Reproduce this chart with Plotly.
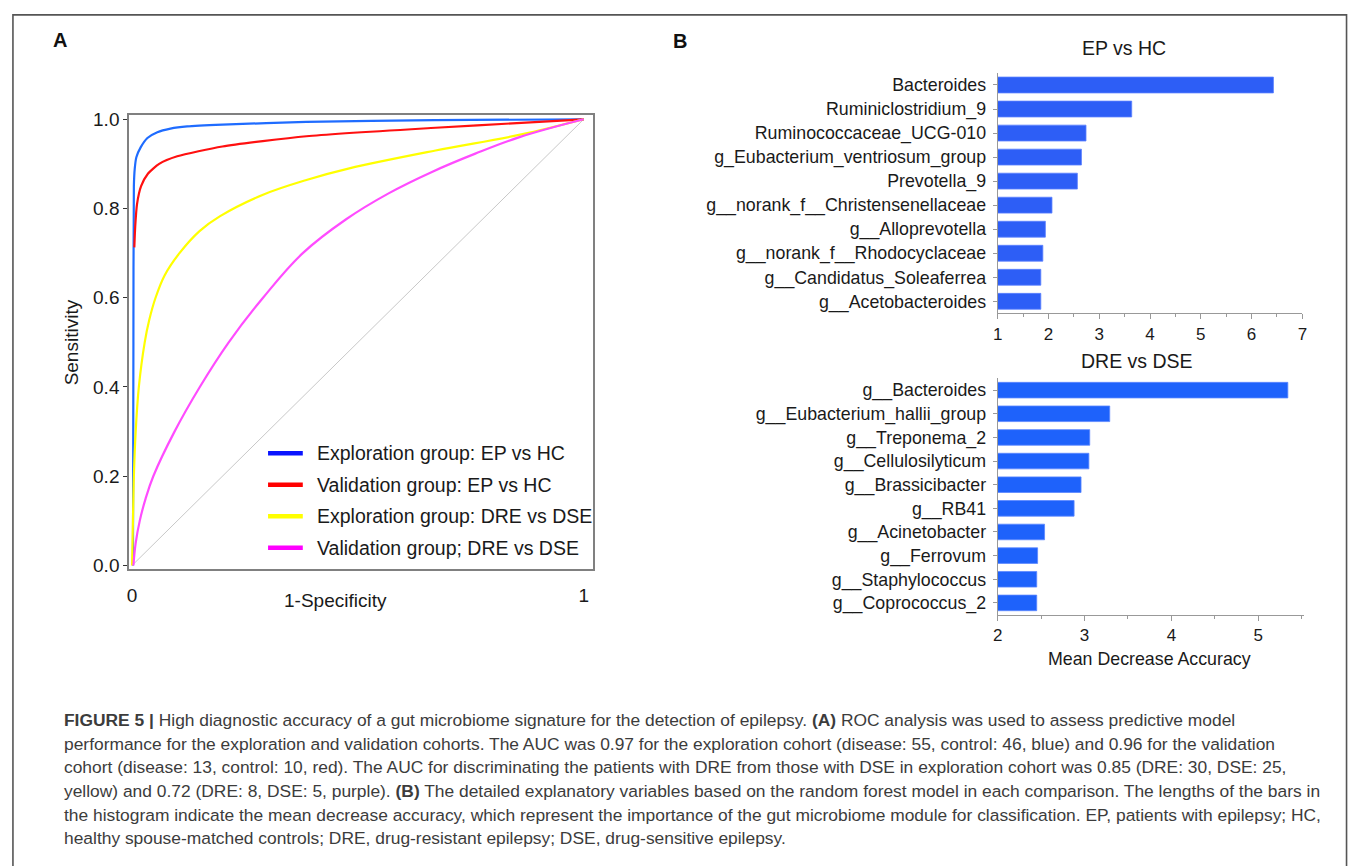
import plotly.graph_objects as go

W, H = 1357, 866

# ---------------- data ----------------
# ROC curves (1-Specificity, Sensitivity)
roc_blue_x = [0.002, 0.003, 0.004, 0.006, 0.0095, 0.019, 0.034, 0.056, 0.085, 0.122, 0.2, 0.386, 0.67, 1.0]
roc_blue_y = [0.0, 0.5, 0.85, 0.89, 0.915, 0.937, 0.958, 0.971, 0.979, 0.984, 0.988, 0.994, 0.998, 1.0]

roc_red_x = [0.005, 0.007, 0.011, 0.02, 0.035, 0.06, 0.1, 0.2, 0.386, 0.672, 0.862, 1.0]
roc_red_y = [0.713, 0.76, 0.81, 0.85, 0.878, 0.9, 0.917, 0.939, 0.962, 0.981, 0.992, 1.0]

roc_yellow_x = [0.0, 0.002, 0.004, 0.008, 0.015, 0.028, 0.038, 0.052, 0.072, 0.105, 0.15, 0.195, 0.29, 0.386, 0.481, 0.672, 0.862, 1.0]
roc_yellow_y = [0.0, 0.1, 0.2, 0.3, 0.4, 0.5, 0.55, 0.6, 0.65, 0.7, 0.75, 0.783, 0.831, 0.864, 0.89, 0.93, 0.966, 1.0]

roc_magenta_x = [0.003, 0.008, 0.017, 0.03, 0.047, 0.094, 0.15, 0.214, 0.29, 0.378, 0.474, 0.568, 0.664, 0.76, 0.858, 1.0]
roc_magenta_y = [0.0, 0.05, 0.1, 0.15, 0.2, 0.3, 0.4, 0.5, 0.6, 0.7, 0.776, 0.834, 0.882, 0.923, 0.96, 1.0]

diag_x = [0.0, 1.0]
diag_y = [0.0, 1.0]

roc_labels = ["Exploration group: EP vs HC", "Validation group: EP vs HC",
              "Exploration group: DRE vs DSE", "Validation group; DRE vs DSE"]

# Random-forest importance (Mean Decrease Accuracy)
ep_hc_taxa = ["Bacteroides", "Ruminiclostridium_9", "Ruminococcaceae_UCG-010",
              "g_Eubacterium_ventriosum_group", "Prevotella_9",
              "g__norank_f__Christensenellaceae", "g__Alloprevotella",
              "g__norank_f__Rhodocyclaceae", "g__Candidatus_Soleaferrea",
              "g__Acetobacteroides"]
ep_hc_mda = [6.43, 3.64, 2.74, 2.65, 2.57, 2.07, 1.94, 1.89, 1.85, 1.85]

dre_dse_taxa = ["g__Bacteroides", "g__Eubacterium_hallii_group", "g__Treponema_2",
                "g__Cellulosilyticum", "g__Brassicibacter", "g__RB41",
                "g__Acinetobacter", "g__Ferrovum", "g__Staphylococcus",
                "g__Coprococcus_2"]
dre_dse_mda = [5.34, 3.29, 3.06, 3.05, 2.96, 2.88, 2.54, 2.46, 2.45, 2.45]

roc_ticks = [0.0, 0.2, 0.4, 0.6, 0.8, 1.0]
roc_ticktext = ["0.0", "0.2", "0.4", "0.6", "0.8", "1.0"]

caption_lines = [
    "<b>FIGURE 5 |</b> High diagnostic accuracy of a gut microbiome signature for the detection of epilepsy. <b>(A)</b> ROC analysis was used to assess predictive model",
    "performance for the exploration and validation cohorts. The AUC was 0.97 for the exploration cohort (disease: 55, control: 46, blue) and 0.96 for the validation",
    "cohort (disease: 13, control: 10, red). The AUC for discriminating the patients with DRE from those with DSE in exploration cohort was 0.85 (DRE: 30, DSE: 25,",
    "yellow) and 0.72 (DRE: 8, DSE: 5, purple). <b>(B)</b> The detailed explanatory variables based on the random forest model in each comparison. The lengths of the bars in",
    "the histogram indicate the mean decrease accuracy, which represent the importance of the gut microbiome module for classification. EP, patients with epilepsy; HC,",
    "healthy spouse-matched controls; DRE, drug-resistant epilepsy; DSE, drug-sensitive epilepsy.",
]

# ---------------- helpers ----------------
def px(x):
    return x / W

def py(y):
    return 1 - y / H

FONT = "Liberation Sans, Arial, Helvetica, sans-serif"

fig = go.Figure()

# ROC panel
fig.add_trace(go.Scatter(x=diag_x, y=diag_y, mode="lines",
                         line=dict(color="#c8c8c8", width=1),
                         xaxis="x", yaxis="y", hoverinfo="skip", showlegend=False))
curve_cols = ["#1f6cff", "#ff1010", "#ffff00", "#ff4cff"]
curve_smooth = [0.6, 0.6, 1.0, 1.1]
curves = [(roc_blue_x, roc_blue_y), (roc_red_x, roc_red_y),
          (roc_yellow_x, roc_yellow_y), (roc_magenta_x, roc_magenta_y)]
for (cx, cy), col, sm, lab in zip(curves, curve_cols, curve_smooth, roc_labels):
    fig.add_trace(go.Scatter(x=cx, y=cy, mode="lines", name=lab,
                             line=dict(color=col, width=2.2, shape="spline", smoothing=sm),
                             xaxis="x", yaxis="y", showlegend=False))

# Bar panels
fig.add_trace(go.Bar(x=ep_hc_mda, y=ep_hc_taxa, orientation="h",
                     marker=dict(color="#2d5ef6", line=dict(color="#5a80ff", width=0.8)),
                     width=0.66, xaxis="x2", yaxis="y2", showlegend=False))
fig.add_trace(go.Bar(x=dre_dse_mda, y=dre_dse_taxa, orientation="h",
                     marker=dict(color="#1e62fb", line=dict(color="#5a86ff", width=0.8)),
                     width=0.66, xaxis="x3", yaxis="y3", showlegend=False))

tickfont_roc = dict(family=FONT, size=19, color="#1a1a1a")
bar_label_font = dict(family=FONT, size=17.8, color="#1a1a1a")
bar_tick_font = dict(family=FONT, size=17, color="#1a1a1a")

fig.update_layout(
    width=W, height=H,
    margin=dict(l=0, r=0, t=0, b=0),
    paper_bgcolor="white", plot_bgcolor="white",
    showlegend=False,
    font=dict(family=FONT),
    xaxis=dict(domain=[px(125), px(592)], range=[-0.0066, 1.0198],
               tickvals=[0, 1], ticktext=["0", "1"], ticks="", tickfont=tickfont_roc,
               showline=True, mirror=True, linecolor="#808080", linewidth=1.6,
               showgrid=False, zeroline=False, ticklabelstandoff=8, anchor="y"),
    yaxis=dict(domain=[py(572), py(110.7)], range=[-0.0088, 1.0095],
               tickvals=roc_ticks, ticktext=roc_ticktext, ticks="outside", ticklen=4,
               tickcolor="#333", tickfont=tickfont_roc,
               showline=True, mirror=True, linecolor="#808080", linewidth=1.6,
               showgrid=False, zeroline=False, anchor="x"),
    xaxis2=dict(domain=[px(1000), px(1307)], range=[1, 7], dtick=1,
                ticks="outside", ticklen=5, tickcolor="#999", tickfont=bar_tick_font,
                minor=dict(ticks="outside", ticklen=3, dtick=0.5, tickcolor="#999"),
                showline=True, linecolor="#999", linewidth=1, showgrid=False,
                zeroline=False, anchor="y2"),
    yaxis2=dict(domain=[py(312), py(68)], type="category", range=[9.5, -0.5],
                ticks="outside", ticklen=4, tickcolor="#999", tickfont=bar_label_font,
                showline=True, linecolor="#999", linewidth=1, showgrid=False,
                ticklabelstandoff=3, anchor="x2"),
    xaxis3=dict(domain=[px(1000), px(1309)], range=[2, 5.53], dtick=1,
                ticks="outside", ticklen=5, tickcolor="#999", tickfont=bar_tick_font,
                minor=dict(ticks="outside", ticklen=3, dtick=0.5, tickcolor="#999"),
                showline=True, linecolor="#999", linewidth=1, showgrid=False,
                zeroline=False, anchor="y3"),
    yaxis3=dict(domain=[py(618), py(378)], type="category", range=[9.5, -0.5],
                ticks="outside", ticklen=4, tickcolor="#999", tickfont=bar_label_font,
                showline=True, linecolor="#999", linewidth=1, showgrid=False,
                ticklabelstandoff=3, anchor="x3"),
)

shapes = []
# outer frame
shapes.append(dict(type="rect", xref="paper", yref="paper",
                   x0=px(8), x1=px(1351.5), y0=py(900), y1=py(9),
                   line=dict(color="#555555", width=1.6), fillcolor="rgba(0,0,0,0)"))

annotations = []
# panel letters
annotations.append(dict(text="<b>A</b>", x=px(55), y=py(35), xref="paper", yref="paper",
                        showarrow=False, xanchor="center", yanchor="middle",
                        font=dict(family=FONT, size=20, color="#111")))
annotations.append(dict(text="<b>B</b>", x=px(680), y=py(36), xref="paper", yref="paper",
                        showarrow=False, xanchor="center", yanchor="middle",
                        font=dict(family=FONT, size=20, color="#111")))
# ROC axis titles
annotations.append(dict(text="1-Specificity", x=px(333), y=py(604), xref="paper", yref="paper",
                        showarrow=False, xanchor="center", yanchor="middle",
                        font=dict(family=FONT, size=19, color="#1a1a1a")))
annotations.append(dict(text="Sensitivity", x=px(67), y=py(342), xref="paper", yref="paper",
                        showarrow=False, xanchor="center", yanchor="middle", textangle=-90,
                        font=dict(family=FONT, size=19, color="#1a1a1a")))
# ROC legend (manual)
leg_cols = ["#0a14ff", "#ff0000", "#ffff00", "#ff00ff"]
leg_y = [454, 486, 518, 550]
for lab, col, yy in zip(roc_labels, leg_cols, leg_y):
    shapes.append(dict(type="line", xref="paper", yref="paper",
                       x0=px(265), x1=px(300), y0=py(yy), y1=py(yy),
                       line=dict(color=col, width=4.5)))
    annotations.append(dict(text=lab, x=px(312), y=py(yy), xref="paper", yref="paper",
                            showarrow=False, xanchor="left", yanchor="middle",
                            font=dict(family=FONT, size=19.5, color="#1a1a1a")))
# bar titles
annotations.append(dict(text="EP vs HC", x=px(1127), y=py(43), xref="paper", yref="paper",
                        showarrow=False, xanchor="center", yanchor="middle",
                        font=dict(family=FONT, size=19.5, color="#1a1a1a")))
annotations.append(dict(text="DRE vs DSE", x=px(1140), y=py(360), xref="paper", yref="paper",
                        showarrow=False, xanchor="center", yanchor="middle",
                        font=dict(family=FONT, size=19.5, color="#1a1a1a")))
annotations.append(dict(text="Mean Decrease Accuracy", x=px(1153), y=py(663), xref="paper", yref="paper",
                        showarrow=False, xanchor="center", yanchor="middle",
                        font=dict(family=FONT, size=17.8, color="#1a1a1a")))
# caption
for i, line in enumerate(caption_lines):
    annotations.append(dict(text=line, x=px(57), y=py(725 + 24 * i), xref="paper", yref="paper",
                            showarrow=False, xanchor="left", yanchor="middle", align="left",
                            font=dict(family=FONT, size=17.4, color="#3c3c3c")))

fig.update_layout(shapes=shapes, annotations=annotations)
fig.write_html("out.html",
               config={"displayModeBar": False},
               post_script="document.body.style.margin='0';document.body.style.overflow='hidden';")
